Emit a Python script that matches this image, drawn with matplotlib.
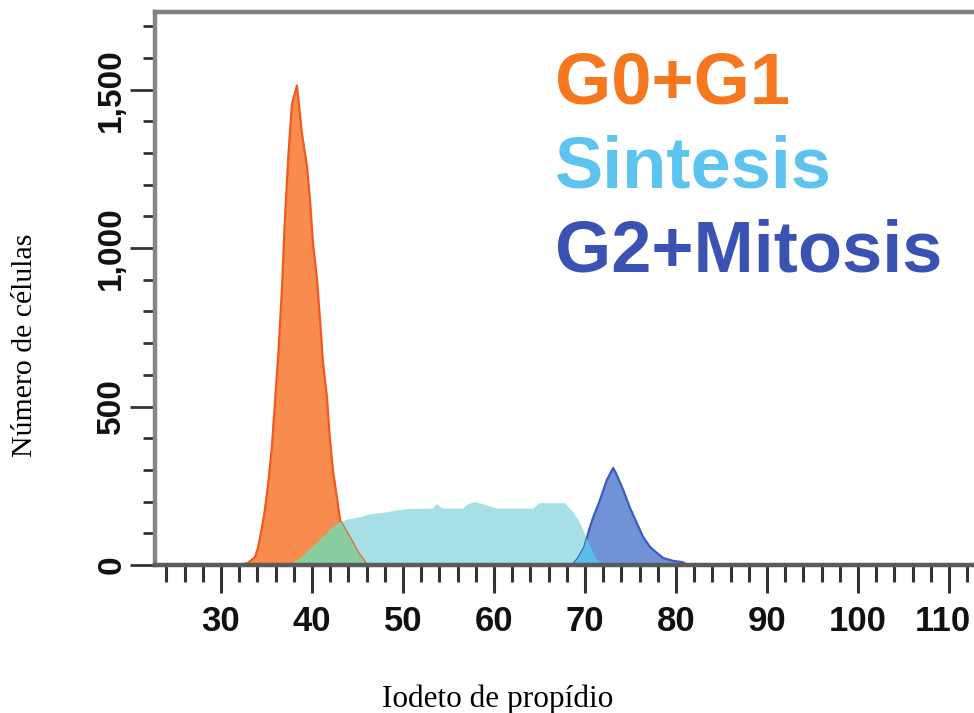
import numpy as np
import matplotlib.pyplot as plt
import matplotlib.transforms as mtransforms
from matplotlib.ticker import MultipleLocator, FixedLocator, FixedFormatter

# --- data ---
# G0+G1 peak
g1_x = [31.75, 32.95, 33.74, 34.07, 34.5, 34.8, 35.2, 35.6, 35.9, 36.3, 36.7, 37.0,
        37.4, 37.8, 38.35, 38.9, 39.45, 39.8, 40.1, 40.55, 40.9, 41.2, 41.65, 41.95,
        42.3, 42.75, 43.1, 44.2, 45.05, 46.05]
g1_y = [0, 6, 25, 54, 117, 168, 259, 373, 500, 664, 870, 1076,
        1290, 1455, 1513, 1361, 1259, 1146, 1019, 902, 769, 642, 528, 405,
        300, 210, 140, 85, 40, 0]

# Sintesis plateau
s_x = [37.6, 38.7, 39.8, 40.9, 42.3, 43.1, 44.2, 45.3, 46.4, 48.2, 49.3, 50.8,
       53.3, 53.7, 54.4, 56.6, 57.0, 57.9, 59.0, 60.3, 64.3, 65.0, 67.8, 68.5,
       69.3, 69.9, 70.6, 71.2, 71.9]
s_y = [0, 22, 50, 80, 120, 136, 145, 151, 160, 166, 172, 177,
       178, 192, 178, 178, 189, 199, 190, 178, 178, 195, 195, 174,
       142, 104, 57, 22, 0]

# G2+Mitosis peak
g2_x = [68.6, 69.2, 69.9, 70.55, 70.9, 71.65, 72.4, 73.1, 73.4, 74.2, 74.95, 75.7,
        76.4, 77.15, 77.9, 78.6, 79.7, 80.7, 81.3]
g2_y = [0, 20, 55, 120, 150, 205, 268, 306, 290, 237, 180, 132,
        88, 57, 38, 22, 13, 9, 0]

x_major = [30, 40, 50, 60, 70, 80, 90, 100, 110]
y_major = [0, 500, 1000, 1500]
y_labels = ["0", "500", "1,000", "1,500"]

legend_names = ["G0+G1", "Sintesis", "G2+Mitosis"]
legend_colors = ["#F5781E", "#5CC4EE", "#3A52B2"]

fig = plt.figure(figsize=(9.74, 7.13), dpi=100)
ax = fig.add_axes([155 / 974, 148 / 713, 819 / 974, 553 / 713])

# fills
ax.fill(s_x, s_y, color="#A6E0E6", lw=0, zorder=2)
orange = ax.fill(g1_x, g1_y, color="#F78C4E", lw=0, zorder=3)[0]
ax.plot(g1_x, g1_y, color="#F15A1E", lw=1.6, zorder=4)
blue = ax.fill(g2_x, g2_y, color="#6F93D6", lw=0, zorder=3)[0]
ax.plot(g2_x, g2_y, color="#3D5BC0", lw=1.6, zorder=4)

# overlaps: sintesis clipped by the other peaks
green = ax.fill(s_x, s_y, color="#89CDA0", lw=0, zorder=5)[0]
green.set_clip_path(orange)
bright = ax.fill(s_x, s_y, color="#5ABEEB", lw=0, zorder=5)[0]
bright.set_clip_path(blue)

ax.set_xlim(22.75, 112.75)
ax.set_ylim(0, 1745)

# spines
ax.spines["right"].set_visible(False)
ax.spines["left"].set_color("#858585")
ax.spines["left"].set_linewidth(3.2)
ax.spines["top"].set_color("#808080")
ax.spines["top"].set_linewidth(3.2)
ax.spines["bottom"].set_color("#5a5a5a")
ax.spines["bottom"].set_linewidth(3.2)
for s in ax.spines.values():
    s.set_zorder(6)

# ticks
ax.xaxis.set_major_locator(FixedLocator(x_major))
ax.xaxis.set_minor_locator(MultipleLocator(2))
ax.yaxis.set_major_locator(FixedLocator(y_major))
ax.yaxis.set_major_formatter(FixedFormatter(y_labels))
ax.yaxis.set_minor_locator(MultipleLocator(100))

ax.tick_params(axis="x", which="major", length=20, width=2.2, color="#333333", pad=9)
ax.tick_params(axis="x", which="minor", length=12, width=2.2, color="#333333")
ax.tick_params(axis="y", which="major", length=18, width=2.0, color="#333333", pad=2,
               labelrotation=90)
ax.tick_params(axis="y", which="minor", length=9, width=2.0, color="#333333")

for lab in ax.get_xticklabels():
    lab.set_family("Liberation Sans")
    lab.set_fontweight("bold")
    lab.set_fontsize(25)
    lab.set_color("#111111")
for lab in ax.get_yticklabels():
    lab.set_family("Liberation Sans")
    lab.set_fontweight("bold")
    lab.set_fontsize(24)
    lab.set_color("#111111")
    lab.set_va("center")

# nudge the last x label so it stays inside the figure
last = ax.get_xticklabels()[-1]
last.set_transform(last.get_transform() +
                   mtransforms.ScaledTranslation(-6 / 100, 0, fig.dpi_scale_trans))

# legend text
for i, (name, col) in enumerate(zip(legend_names, legend_colors)):
    fig.text(555 / 974, 1 - (104 + i * 84) / 713, name, color=col,
             fontsize=52, fontweight="bold", family="Liberation Sans",
             ha="left", va="baseline")

# axis titles
fig.text(25 / 974, 1 - 345 / 713, "Número de células", rotation=90,
         family="Liberation Serif", fontsize=21.5, ha="center", va="center")
fig.text(498 / 974, 1 - 707 / 713, "Iodeto de propídio",
         family="Liberation Serif", fontsize=22.5, ha="center", va="baseline")

fig.savefig("out.png", dpi=100)
